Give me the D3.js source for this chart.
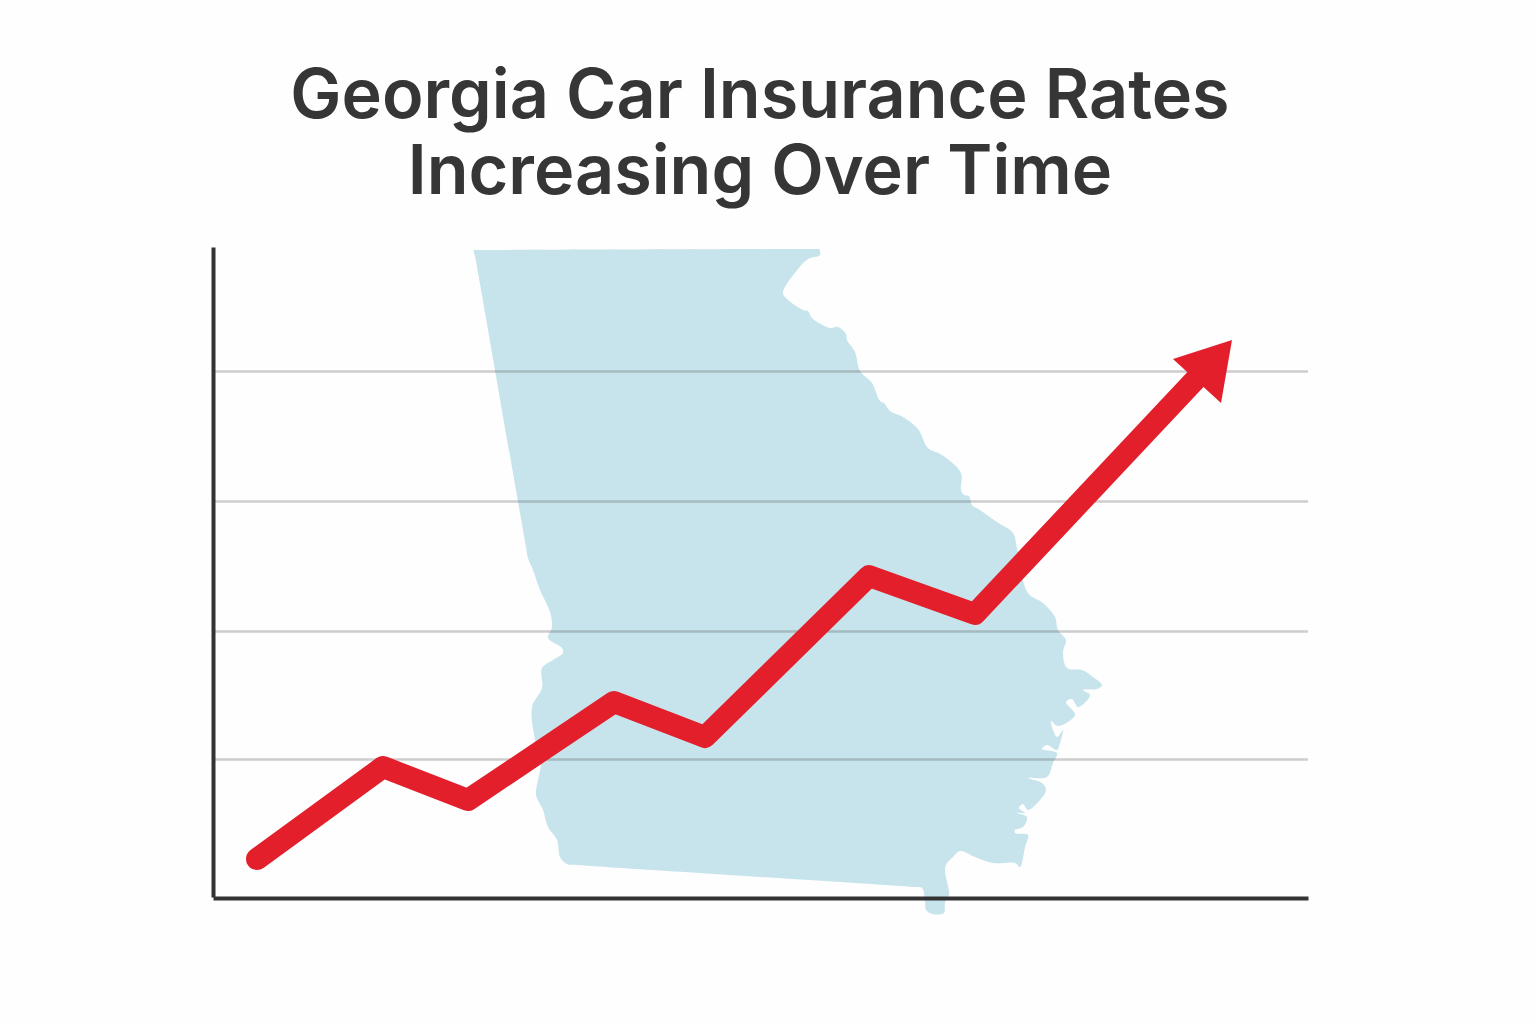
<!DOCTYPE html>
<html>
<head>
<meta charset="utf-8">
<script src="https://cdn.jsdelivr.net/npm/d3@7"></script>
<style>
  html, body { margin: 0; background: #fefefe; }
  svg { display: block; }
</style>
</head>
<body>
<div id="chart"></div>
<script>
const titleLines = ["Georgia Car Insurance Rates", "Increasing Over Time"];

// chart values
const gridValues = [138, 266, 396, 526];
const rateX = [44, 170, 255, 401, 492, 656, 762, 982];
const rateY = [38, 130, 97, 195, 160, 321, 283, 517];
const arrowHead = [[1019, 557], [1008, 494], [960, 538]];

// outline of the state behind the line, same units as the chart
const georgiaOutline = [
  [261, 647], [264, 647], [270, 647], [595, 648], [603, 648], [606, 648], [607, 642], [595, 638], [585, 628], [570, 605], [572, 600],
  [590, 587], [595, 586], [599, 579], [617, 569], [625, 570], [633, 563], [634, 557],
  [642, 545], [647, 526], [659, 514], [667, 496], [671, 494], [677, 486], [690, 480],
  [705, 468], [715, 449], [729, 442], [748, 424], [748, 407], [751, 402], [756, 401],
  [759, 392], [767, 387], [784, 375], [800, 364], [804, 349], [815, 304], [830, 294],
  [842, 280], [845, 267], [853, 257], [850, 245], [854, 229], [869, 227], [880, 220],
  [889, 212], [884, 208], [870, 207], [877, 202], [865, 190], [859, 198], [853, 195],
  [862, 182], [845, 171], [838, 176], [844, 160], [850, 167], [847, 154], [844, 147],
  [834, 152], [829, 148], [844, 144], [840, 134], [834, 120], [815, 119], [829, 114],
  [833, 107], [827, 97], [815, 87], [810, 93], [806, 89], [812, 84], [804, 84],
  [814, 80], [810, 70], [802, 67], [802, 64], [815, 62], [812, 50], [807, 30],
  [802, 34], [780, 34], [762, 40], [747, 46], [739, 39], [734, 34], [732, 27],
  [736, 2], [732, -5], [731, -16], [719, -17], [713, -13], [712, -5], [709, 9],
  [700, 10], [364, 32], [354, 33], [347, 40], [344, 57], [335, 70], [330, 87], [323, 102], [325, 117],
  [328, 134], [322, 157], [319, 190], [329, 209], [329, 229], [340, 237], [350, 244],
  [349, 249], [335, 259], [339, 270], [337, 285], [327, 307], [320, 327], [315, 339],
  [313, 350], [263, 636]
];

const dimensions = {
  width: 1536,
  height: 1024,
  margins: { top: 247, right: 228, bottom: 127, left: 213 }
};
dimensions.boundedWidth = dimensions.width - dimensions.margins.left - dimensions.margins.right;
dimensions.boundedHeight = dimensions.height - dimensions.margins.top - dimensions.margins.bottom;

const wrapper = d3.select("#chart")
  .append("svg")
  .attr("width", dimensions.width)
  .attr("height", dimensions.height)
  .style("background-color", "#fefefe");

const xScale = d3.scaleLinear().domain([0, 1095]).range([0, dimensions.boundedWidth]);
const yScale = d3.scaleLinear().domain([0, 650]).range([dimensions.boundedHeight, 0]);

// title
wrapper.append("g")
  .selectAll("text")
  .data(titleLines)
  .join("text")
  .attr("x", 760)
  .attr("y", (d, i) => 117.5 + i * 76)
  .attr("text-anchor", "middle")
  .attr("font-family", "Inter")
  .attr("font-size", 68.3)
  .attr("font-weight", 600)
  .attr("fill", "#363636")
  .text((d) => d);

const bounds = wrapper.append("g")
  .attr("transform", `translate(${dimensions.margins.left},${dimensions.margins.top})`);

const pointLine = d3.line()
  .x((d) => xScale(d[0]))
  .y((d) => yScale(d[1]));

// state shape, softened so the border doesn't look faceted
const outlineLine = d3.line()
  .x((d) => xScale(d[0]))
  .y((d) => yScale(d[1]))
  .curve(d3.curveCatmullRomClosed.alpha(0.5));

bounds.append("path")
  .attr("d", outlineLine(georgiaOutline))
  .attr("fill", "#c7e4ec");

// grid
bounds.append("g")
  .call(d3.axisLeft(yScale)
    .tickValues(gridValues)
    .tickSize(-dimensions.boundedWidth)
    .tickFormat(""))
  .call((g) => g.select(".domain").remove())
  .call((g) => g.selectAll("line")
    .attr("stroke", "rgba(60,60,60,0.25)")
    .attr("stroke-width", 2.5));

// axes
bounds.append("g")
  .call(d3.axisLeft(yScale).tickValues([]).tickSize(0))
  .call((g) => g.select(".domain").attr("stroke", "#333333").attr("stroke-width", 4));

bounds.append("g")
  .attr("transform", `translate(0,${dimensions.boundedHeight + 1})`)
  .call(d3.axisBottom(xScale).tickValues([]).tickSize(0))
  .call((g) => g.select(".domain").attr("stroke", "#333333").attr("stroke-width", 4));

// rate line and arrow
bounds.append("path")
  .attr("d", pointLine(rateX.map((x, i) => [x, rateY[i]])))
  .attr("fill", "none")
  .attr("stroke", "#e21f2b")
  .attr("stroke-width", 22)
  .attr("stroke-linecap", "round")
  .attr("stroke-linejoin", "round");

bounds.append("path")
  .attr("d", pointLine(arrowHead) + "Z")
  .attr("fill", "#e21f2b");
</script>
</body>
</html>
